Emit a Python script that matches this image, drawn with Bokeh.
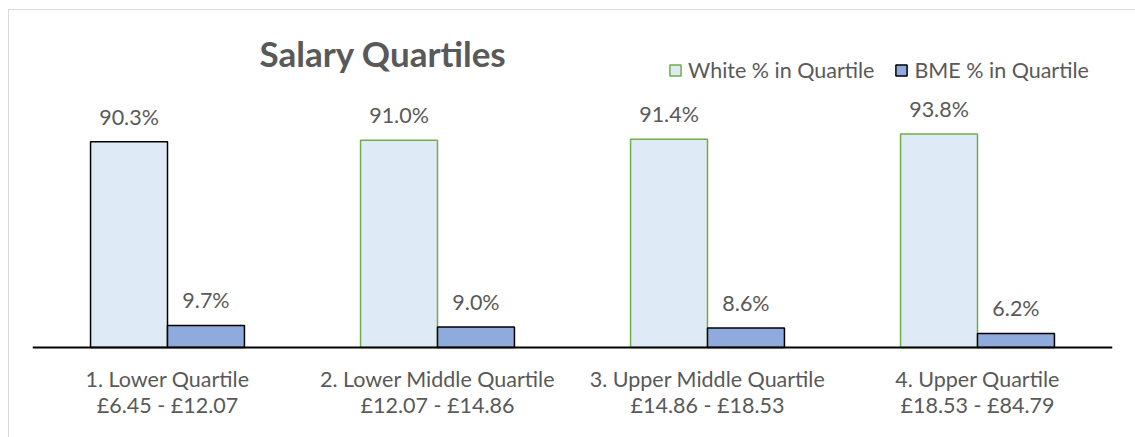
from bokeh.plotting import figure
from bokeh.models import FactorRange, Range1d, ColumnDataSource, Label, Legend, LegendItem, Span
from bokeh.transform import dodge
from bokeh.embed import file_html
from bokeh.resources import INLINE
from bokeh.core.properties import value

categories = ["1. Lower Quartile\n£6.45 - £12.07",
              "2. Lower Middle Quartile\n£12.07 - £14.86",
              "3. Upper Middle Quartile\n£14.86 - £18.53",
              "4. Upper Quartile\n£18.53 - £84.79"]
white_pct = [90.3, 91.0, 91.4, 93.8]
bme_pct = [9.7, 9.0, 8.6, 6.2]
white_outline = ["#000000", "#70AD47", "#70AD47", "#70AD47"]
series_names = ["White % in Quartile", "BME % in Quartile"]
title_text = "Salary Quartiles"

TXT = "#595959"
FONT = "Lato"
PX = 2.27  # pixels per percent

src = ColumnDataSource(dict(
    cat=categories,
    white=white_pct,
    bme=bme_pct,
    wline=white_outline,
    wlab=[f"{v:.1f}%" for v in white_pct],
    blab=[f"{v:.1f}%" for v in bme_pct],
))

p = figure(x_range=FactorRange(*categories, range_padding=0),
           y_range=Range1d(-2 / PX, (346 - 30) / PX),
           width=1127, height=428, output_backend="svg", toolbar_location=None,
           min_border_left=23, min_border_right=24, min_border_top=20, min_border_bottom=89)
p.margin = (9, 0, 0, 8)
p.styles = {"border-top": "1px solid #D9D9D9", "border-left": "1px solid #D9D9D9"}
p.outline_line_color = None
p.grid.visible = False
p.yaxis.visible = False
p.background_fill_color = "white"
p.border_fill_color = "white"

p.add_layout(Span(location=0, dimension="width", line_color="#000000", line_width=2))

rw = p.vbar(x=dodge("cat", -0.1425, range=p.x_range), top="white", width=0.285, source=src,
            fill_color="#DEEBF7", line_color="wline", line_width=1.5)
rb = p.vbar(x=dodge("cat", 0.1425, range=p.x_range), top="bme", width=0.285, source=src,
            fill_color="#8FAADC", line_color="#000000", line_width=1.5)

p.text(x=dodge("cat", -0.1425, range=p.x_range), y="white", text="wlab", source=src,
       text_align="center", text_baseline="middle", y_offset=-25,
       text_font=value(FONT), text_font_size="21.5px", text_color=TXT)
p.text(x=dodge("cat", 0.1425, range=p.x_range), y="bme", text="blab", source=src,
       text_align="center", text_baseline="middle", y_offset=-25,
       text_font=value(FONT), text_font_size="21.5px", text_color=TXT)

ax = p.xaxis[0]
ax.axis_line_color = None
ax.major_tick_line_color = None
ax.minor_tick_line_color = None
ax.major_label_text_font = FONT
ax.major_label_text_font_size = "21.5px"
ax.major_label_text_color = TXT
ax.major_label_text_line_height = 1.0
ax.major_label_standoff = 10
ax.major_label_orientation = "horizontal"

p.add_layout(Label(x=(258 - 31) / 270, y=(346 - 52) / PX, text=title_text,
                   text_font=FONT, text_font_size="35px", text_font_style="bold",
                   text_color=TXT, text_baseline="middle", text_align="left"))

legend = Legend(items=[LegendItem(label=series_names[0], renderers=[rw], index=1),
                       LegendItem(label=series_names[1], renderers=[rb], index=0)],
                orientation="horizontal", location=(636, 266),
                glyph_width=14, glyph_height=14, label_standoff=6, spacing=20,
                padding=0, margin=0, border_line_color=None, background_fill_alpha=0,
                label_text_font=FONT, label_text_font_size="21.5px", label_text_color=TXT)
p.add_layout(legend)

open("out.html", "w").write(file_html(p, INLINE))
